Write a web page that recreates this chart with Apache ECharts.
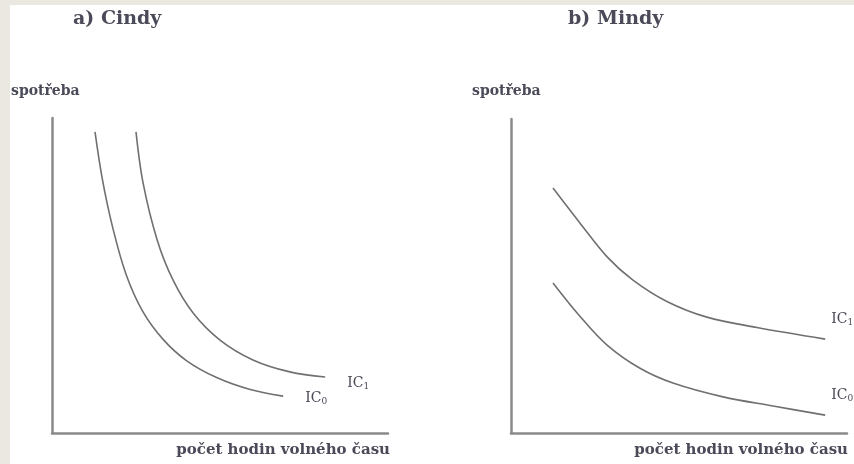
<!DOCTYPE html>
<html><head><meta charset="utf-8">
<script src="https://cdn.jsdelivr.net/npm/echarts@6/dist/echarts.min.js"></script>
<style>html,body{margin:0;padding:0;background:#fff}#c{width:854px;height:464px}</style>
</head><body><div id="c"></div>
<script>
// Data (abstract units 0..100 on each panel)
const titles = ['a) Cindy', 'b) Mindy'];
const yAxisName = 'spotřeba';
const xAxisName = 'počet hodin volného času';
const cindyIC0 = [[12.8,95.6],[15,80.5],[18,65.5],[22,50.5],[27,38.6],[33,29.8],[40,23.0],[49,17.6],[59,13.8],[68.8,11.7]];
const cindyIC1 = [[25.0,95.6],[27.1,79.4],[31.3,61.3],[36.0,48.6],[42.0,38.1],[50.0,29.5],[59.8,23.2],[70.8,19.4],[81.3,17.8]];
const mindyIC1 = [[12.5,78.0],[20.5,66.9],[28.6,56.1],[36.3,48.7],[46.4,41.9],[58.3,36.9],[73.2,33.6],[93.5,29.9]];
const mindyIC0 = [[12.5,47.8],[20.5,37.2],[28.6,28.0],[38.4,20.6],[48.2,15.9],[63.1,11.5],[78.0,8.6],[93.5,5.7]];

const serif = '"DejaVu Serif","Liberation Serif",serif';
const txt = '#4a4a58';
const curveColor = '#707070';

function axisX(gi){ return {type:'value',gridIndex:gi,min:0,max:100,
  axisLine:{show:true,lineStyle:{color:'#8a8a8a',width:2.5}},axisTick:{show:false},axisLabel:{show:false},splitLine:{show:false}}; }
function axisY(gi){ return {type:'value',gridIndex:gi,min:0,max:100,
  axisLine:{show:true,lineStyle:{color:'#8a8a8a',width:2.5}},axisTick:{show:false},axisLabel:{show:false},splitLine:{show:false}}; }

function curve(gi, data, name, off){
  return {type:'line',xAxisIndex:gi,yAxisIndex:gi,data:data,smooth:0.35,symbol:'none',
    lineStyle:{color:curveColor,width:1.6},silent:true,
    endLabel:{show:true,formatter:'{a|IC}{b|'+name+'}',offset:off,
      rich:{a:{fontFamily:serif,fontSize:14,color:txt},b:{fontFamily:serif,fontSize:9,color:txt,padding:[8,0,0,0]}}}};
}

const chart = echarts.init(document.getElementById('c'));
chart.setOption({
  animation:false,
  backgroundColor:'#fff',
  grid:[{left:52,top:118,width:336,height:315},{left:511,top:119,width:336,height:314}],
  xAxis:[axisX(0),axisX(1)],
  yAxis:[axisY(0),axisY(1)],
  series:[
    curve(0,cindyIC0,'0',[14,2]),
    curve(0,cindyIC1,'1',[14,6]),
    curve(1,mindyIC1,'1',[-2,-20]),
    curve(1,mindyIC0,'0',[-2,-20])
  ],
  graphic:[
    {type:'rect',shape:{x:0,y:0,width:10,height:464},style:{fill:'#ebe8e1'},silent:true},
    {type:'rect',shape:{x:0,y:0,width:854,height:5},style:{fill:'#ebe8e1'},silent:true},
    {type:'text',left:73,top:10,style:{text:titles[0],font:'bold 19px '+serif,fill:txt}},
    {type:'text',left:568,top:10,style:{text:titles[1],font:'bold 19px '+serif,fill:txt}},
    {type:'text',left:11,top:84,style:{text:yAxisName,font:'bold 14px '+serif,fill:txt}},
    {type:'text',left:472,top:84,style:{text:yAxisName,font:'bold 14px '+serif,fill:txt}},
    {type:'text',right:464,top:443,style:{text:xAxisName,font:'bold 15px '+serif,fill:txt}},
    {type:'text',right:6,top:443,style:{text:xAxisName,font:'bold 15px '+serif,fill:txt}}
  ]
});
</script></body></html>
